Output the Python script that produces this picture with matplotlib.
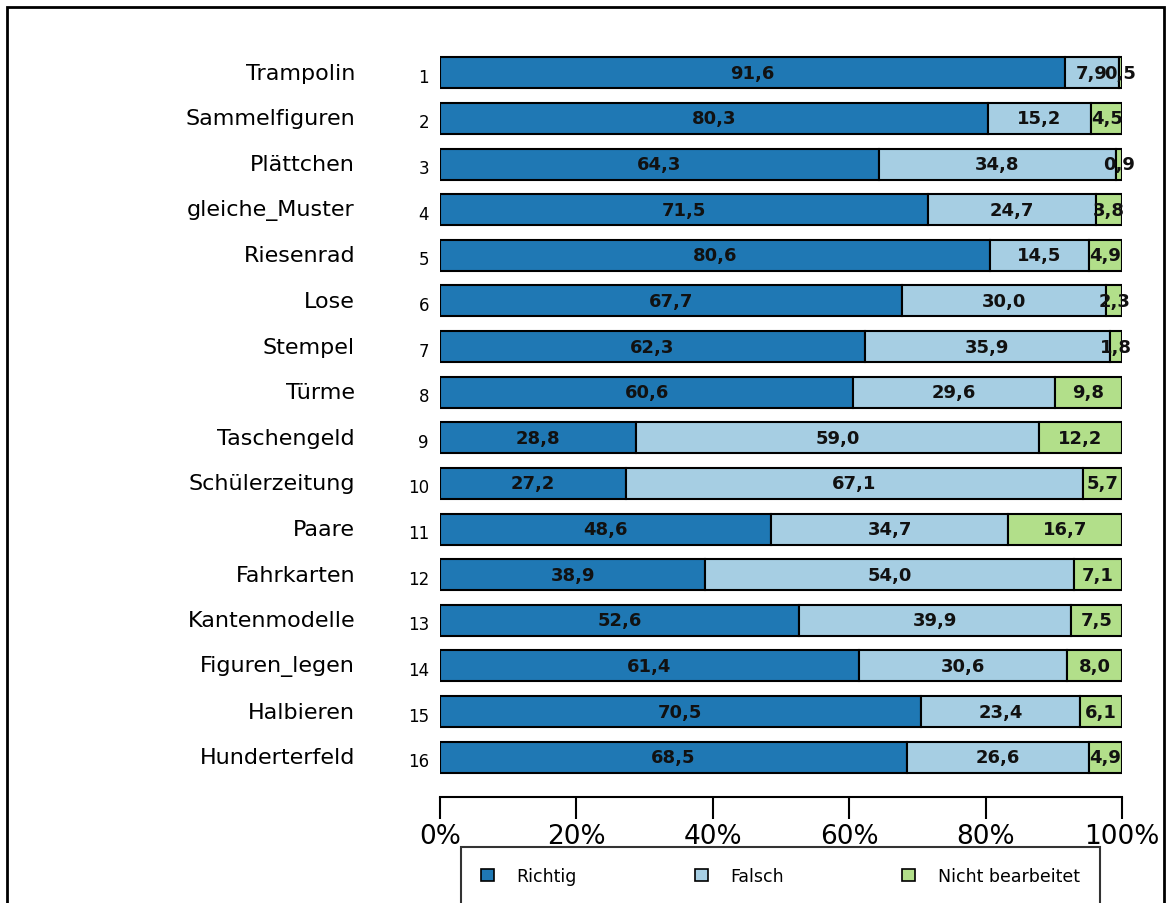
import numpy as np
import matplotlib.pyplot as plt
import matplotlib.transforms as mtransforms
from matplotlib.patches import Patch, Rectangle

tasks = ["Trampolin", "Sammelfiguren", "Plättchen", "gleiche_Muster", "Riesenrad",
         "Lose", "Stempel", "Türme", "Taschengeld", "Schülerzeitung", "Paare",
         "Fahrkarten", "Kantenmodelle", "Figuren_legen", "Halbieren", "Hunderterfeld"]
richtig = [91.6, 80.3, 64.3, 71.5, 80.6, 67.7, 62.3, 60.6, 28.8, 27.2, 48.6, 38.9, 52.6, 61.4, 70.5, 68.5]
falsch = [7.9, 15.2, 34.8, 24.7, 14.5, 30.0, 35.9, 29.6, 59.0, 67.1, 34.7, 54.0, 39.9, 30.6, 23.4, 26.6]
nicht = [0.5, 4.5, 0.9, 3.8, 4.9, 2.3, 1.8, 9.8, 12.2, 5.7, 16.7, 7.1, 7.5, 8.0, 6.1, 4.9]
series_names = ["Richtig", "Falsch", "Nicht bearbeitet"]
xtick_vals = [0, 20, 40, 60, 80, 100]
colors = ["#1f78b4", "#a6cee3", "#b2df8a"]

plt.rcParams['font.family'] = ['DejaVu Sans']

W, H = 1171, 904
fig = plt.figure(figsize=(W / 100, H / 100), dpi=100)
ax = fig.add_axes([440 / W, 1 - 781 / H, (1122 - 440) / W, (781 - 51) / H])

# spine first, it resets the ticks
for s in ["top", "right", "left"]:
    ax.spines[s].set_visible(False)
ax.spines["bottom"].set_position(("outward", 12))
ax.spines["bottom"].set_linewidth(1.5)

y = np.arange(len(tasks))
left = np.zeros(len(tasks))
for vals, name, col in zip([richtig, falsch, nicht], series_names, colors):
    vals = np.array(vals)
    ax.barh(y, vals, left=left, height=0.68, color=col, edgecolor="black", linewidth=1.5)
    for yi, l, v in zip(y, left, vals):
        ax.text(l + v / 2, yi, f"{v:.1f}".replace(".", ","), ha="center", va="center",
                fontsize=13, fontweight="bold", color="#111111")
    left += vals

ax.set_xlim(0, 100)
ax.set_ylim(len(tasks) - 0.5, -0.5)
ax.set_yticks(y)
ax.set_yticklabels([str(i + 1) for i in y], fontsize=12)
ax.tick_params(axis="y", length=0, pad=8)
ax.set_xticks(xtick_vals)
ax.set_xticklabels([f"{v}%" for v in xtick_vals])
ax.tick_params(axis="x", length=16, width=1.5, direction="out", pad=3, labelsize=19)

# push the row numbers a bit down, like in the reference
offset = mtransforms.ScaledTranslation(0, -2 / 100, fig.dpi_scale_trans)
for lab in ax.get_yticklabels():
    lab.set_transform(lab.get_transform() + offset)

trans = mtransforms.blended_transform_factory(fig.transFigure, ax.transData)
for yi, name in zip(y, tasks):
    ax.text(355 / W, yi, name, transform=trans, ha="right", va="center", fontsize=16)

handles = [Patch(facecolor=c, edgecolor="black", linewidth=1.2) for c in colors]
leg = fig.legend(handles, series_names, loc="upper left", ncol=3,
                 bbox_to_anchor=(461 / W, 1 - 848 / H), borderaxespad=0,
                 fontsize=12.5, handlelength=0.75, handleheight=0.75,
                 handletextpad=1.3, columnspacing=6.8, borderpad=1.15,
                 frameon=True, fancybox=False)
leg.get_frame().set_edgecolor("black")
leg.get_frame().set_linewidth(1.5)

fig.patches.append(Rectangle((7 / W, -0.05), (1164 - 7) / W, 1.05 - 8 / H,
                             transform=fig.transFigure, fill=False,
                             edgecolor="black", linewidth=2))

fig.savefig("out.png", dpi=100)
